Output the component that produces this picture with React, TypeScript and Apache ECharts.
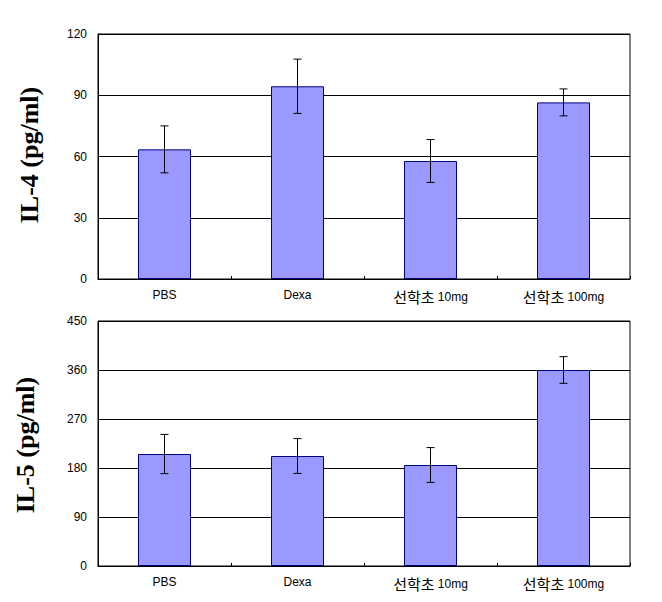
import React, { useEffect, useRef } from "react";
import * as echarts from "echarts";

const categories = ["PBS", "Dexa", "선학초 10mg", "선학초 100mg"];
const il4Values = [63.5, 94.4, 57.8, 86.5];
const il4Errors = [11.5, 13.3, 10.5, 6.6];
const il5Values = [205.7, 202, 185.5, 360];
const il5Errors = [36, 32, 32, 24.5];
const il4Ticks = { min: 0, max: 120, interval: 30 };
const il5Ticks = { min: 0, max: 450, interval: 90 };
const il4Title = "IL-4 (pg/ml)";
const il5Title = "IL-5 (pg/ml)";

const labelFont = "'Liberation Sans', Arial, sans-serif";
const cjkFont = "'Noto Sans CJK KR', sans-serif";

function formatCategory(v: string) {
  const m = v.match(/^([^\x00-\x7F]+)\s*(.*)$/);
  if (m) return `{k|${m[1]}} {s|${m[2]}}`;
  return `{s|${v}}`;
}

function errorSeries(values: number[], errs: number[], idx: number) {
  return {
    type: "custom",
    xAxisIndex: idx,
    yAxisIndex: idx,
    silent: true,
    z: 5,
    data: values.map((v, i) => [i, v - errs[i], v + errs[i]]),
    renderItem: (params: any, api: any) => {
      const x = api.value(0);
      const lo = api.coord([x, api.value(1)]);
      const hi = api.coord([x, api.value(2)]);
      const cap = 4;
      const style = { stroke: "#000", lineWidth: 1 };
      return {
        type: "group",
        children: [
          { type: "line", shape: { x1: lo[0], y1: lo[1], x2: hi[0], y2: hi[1] }, style },
          { type: "line", shape: { x1: hi[0] - cap, y1: hi[1], x2: hi[0] + cap, y2: hi[1] }, style },
          { type: "line", shape: { x1: lo[0] - cap, y1: lo[1], x2: lo[0] + cap, y2: lo[1] }, style },
        ],
      };
    },
  };
}

function xAxisDef(idx: number) {
  return {
    type: "category",
    gridIndex: idx,
    data: categories,
    boundaryGap: true,
    axisLine: { show: true, lineStyle: { color: "#000", width: 1 } },
    axisTick: { show: true, inside: true, length: 3, lineStyle: { color: "#000" } },
    axisLabel: {
      color: "#000",
      margin: 10,
      interval: 0,
      formatter: formatCategory,
      rich: {
        k: { fontSize: 15, fontFamily: cjkFont, color: "#000" },
        s: { fontSize: 12, fontFamily: labelFont, color: "#000" },
      },
    },
    splitLine: { show: false },
  };
}

function yAxisDef(idx: number, t: { min: number; max: number; interval: number }) {
  return {
    type: "value",
    gridIndex: idx,
    min: t.min,
    max: t.max,
    interval: t.interval,
    axisLine: { show: true, lineStyle: { color: "#000", width: 1 } },
    axisTick: { show: false },
    axisLabel: { color: "#000", fontSize: 12, fontFamily: labelFont, margin: 11 },
    splitLine: { show: true, lineStyle: { color: "#000", width: 1 } },
  };
}

function barSeries(values: number[], idx: number) {
  return {
    type: "bar",
    xAxisIndex: idx,
    yAxisIndex: idx,
    data: values,
    barWidth: 53,
    itemStyle: { color: "#9999FF", borderColor: "#000080", borderWidth: 1 },
  };
}

export default function App() {
  const ref = useRef<HTMLDivElement>(null);
  useEffect(() => {
    if (!ref.current) return;
    const chart = echarts.init(ref.current, undefined, { renderer: "svg" });
    const titleStyle = {
      fill: "#000",
      font: "bold 26px 'Liberation Serif', 'Times New Roman', serif",
      textAlign: "center",
      textVerticalAlign: "middle",
    };
    chart.setOption({
      animation: false,
      backgroundColor: "#fff",
      grid: [
        { left: 98, top: 34, width: 532, height: 245, show: true, borderColor: "#000", borderWidth: 1, backgroundColor: "transparent" },
        { left: 98, top: 321, width: 532, height: 245, show: true, borderColor: "#000", borderWidth: 1, backgroundColor: "transparent" },
      ],
      xAxis: [xAxisDef(0), xAxisDef(1)],
      yAxis: [yAxisDef(0, il4Ticks), yAxisDef(1, il5Ticks)],
      series: [
        barSeries(il4Values, 0),
        errorSeries(il4Values, il4Errors, 0),
        barSeries(il5Values, 1),
        errorSeries(il5Values, il5Errors, 1),
      ],
      graphic: [
        { type: "text", x: 29, y: 155, rotation: Math.PI / 2, style: { ...titleStyle, text: il4Title } },
        { type: "text", x: 25, y: 445, rotation: Math.PI / 2, style: { ...titleStyle, text: il5Title } },
      ],
    });
    return () => chart.dispose();
  }, []);
  return (
    <div
      ref={ref}
      style={{ position: "absolute", left: 0, top: 0, width: 662, height: 602 }}
    />
  );
}
